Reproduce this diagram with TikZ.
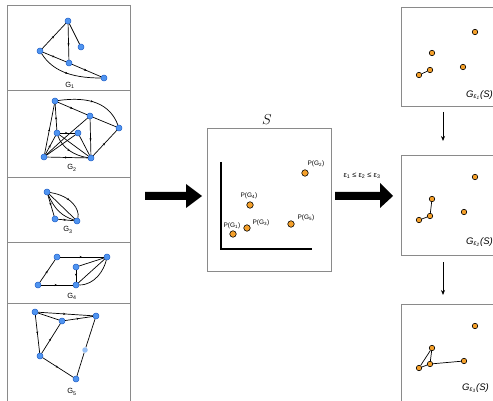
\documentclass[tikz,border=0pt]{standalone}
\usepackage{fontspec}
\setmainfont{Liberation Sans}
\usetikzlibrary{decorations.markings,arrows.meta}
\definecolor{nodeblue}{HTML}{4F94F0}
\definecolor{nodeblueedge}{HTML}{1F5FC8}
\definecolor{ptorange}{HTML}{F5A02A}
\definecolor{boxgray}{HTML}{8A8A8A}
\tikzset{
  bn/.style={circle,fill=nodeblue,draw=nodeblueedge,line width=0.5pt,inner sep=0pt,minimum size=6pt},
  bnl/.style={circle,fill=nodeblue!60,inner sep=0pt,minimum size=5.5pt},
  ge/.style={line width=0.7pt,black,postaction={decorate},decoration={markings,mark=at position 0.5 with {\arrow{Stealth[length=2.4pt,width=2.2pt]}}}},
  gp/.style={line width=0.7pt,black},
  op/.style={circle,fill=ptorange,draw=black,line width=0.6pt,inner sep=0pt,minimum size=6.5pt},
  ops/.style={circle,fill=ptorange,draw=black,line width=0.6pt,inner sep=0pt,minimum size=5.5pt},
  frame/.style={draw=boxgray,line width=0.9pt},
  glabel/.style={font=\fontsize{7.5}{8}\selectfont,inner sep=0pt},
  plabel/.style={font=\fontsize{6.5}{7}\selectfont,inner sep=0pt},
  bigarrow/.style={fill=black,draw=none},
  downarrow/.style={-{Stealth[length=5pt,width=4pt]},line width=0.8pt},
  elabel/.style={font=\fontsize{9.5}{10}\selectfont\itshape,inner sep=0pt,anchor=east}
}
\begin{document}
\begin{tikzpicture}[x=1pt,y=-1pt]
\useasboundingbox (0,0) rectangle (493,401);
% left column frame
\draw[frame] (7,5) -- (130,5) (7,5) -- (7,405) (130,5) -- (130,405);
\draw[frame] (7,90) -- (130,90) (7,177) -- (130,177) (7,242) -- (130,242) (7,303) -- (130,303);

% G1
\node[bn] (a1) at (68,21) {};
\node[bn] (a2) at (40,51) {};
\node[bn] (a3) at (81,47) {};
\node[bn] (a4) at (69,63) {};
\node[bn] (a5) at (104,78) {};
\draw[ge] (a2) -- (a1);
\draw[ge] (a4) -- (a1);
\draw[gp] (a1) -- (a3);
\draw[ge] (a2) -- (a4);
\draw[ge] (a4) -- (a5);
\draw[ge] (a2) .. controls (52,70) and (70,78) .. (a5);
\node[glabel] (l1) at (70,85) {G\textsubscript{1}};

% G2
\node[bn] (b1) at (55,101) {};
\node[bn] (b2) at (90,116) {};
\node[bn] (b3) at (119,128) {};
\node[bn] (b4) at (57,133) {};
\node[bn] (b5) at (78,133) {};
\node[bn] (b6) at (44,157) {};
\node[bn] (b7) at (91,158) {};
\draw[ge] (b1) -- (b2);
\draw[ge] (b1) .. controls (90,96) and (110,104) .. (b3);
\draw[gp] (b2) -- (b3);
\draw[ge] (b7) -- (b2);
\draw[ge] (b7) -- (b3);
\draw[ge] (b4) -- (b1);
\draw[ge] (b6) -- (b1);
\draw[ge] (b4) -- (b5);
\draw[ge] (b6) -- (b4);
\draw[ge] (b4) .. controls (62,148) and (75,156) .. (b7);
\draw[gp] (b4) -- (b7);
\draw[gp] (b5) -- (b6);
\draw[gp] (b5) -- (b7);
\draw[ge] (b6) -- (b7);
\draw[gp] (b6) .. controls (60,142) and (62,140) .. (b2);
\node[glabel] (l2) at (72,168) {G\textsubscript{2}};

% G3
\node[bn] (c1) at (47,192) {};
\node[bn] (c2) at (55,219) {};
\node[bn] (c3) at (77,221) {};
\draw[ge] (c1) -- (c2);
\draw[gp] (c1) -- (c3);
\draw[ge] (c1) .. controls (72,196) and (80,210) .. (c3);
\draw[gp] (c1) .. controls (55,210) and (62,216) .. (c3);
\draw[ge] (c2) -- (c3);
\node[glabel] (l3) at (68,230) {G\textsubscript{3}};

% G4
\node[bn] (d1) at (57,257) {};
\node[bn] (d2) at (107,257) {};
\node[bn] (d3) at (76,267) {};
\node[bn] (d4) at (38,285) {};
\node[bn] (d5) at (76,285) {};
\draw[ge] (d1) -- (d2);
\draw[ge] (d4) -- (d1);
\draw[ge] (d4) -- (d5);
\draw[gp] (d3) -- (d2);
\draw[ge] (d3) -- (d5);
\draw[gp] (d5) -- (d2);
\draw[gp] (d5) .. controls (95,285) and (104,270) .. (d2);
\node[glabel] (l4) at (72,296) {G\textsubscript{4}};

% G5
\node[bn] (e1) at (35,312) {};
\node[bn] (e2) at (62,321) {};
\node[bn] (e3) at (96,316) {};
\node[bn] (e4) at (40,356) {};
\node[bnl] (e5) at (85,350) {};
\node[bn] (e6) at (76,379) {};
\draw[ge] (e1) -- (e3);
\draw[gp] (e1) -- (e2);
\draw[ge] (e2) -- (e3);
\draw[ge] (e1) -- (e4);
\draw[ge] (e4) -- (e2);
\draw[ge] (e4) -- (e6);
\draw[gp] (e6) -- (e5);
\draw[gp] (e5) -- (e3);
\node[glabel] (l5) at (72,392) {G\textsubscript{5}};

% big arrow 1
\fill[bigarrow] (145,192) -- (186,192) -- (186,184) -- (202,196) -- (186,208) -- (186,200) -- (145,200) -- cycle;

% S box
\draw[frame] (207,128) rectangle (331,271);
\node[inner sep=0pt,font=\Large] (slab) at (267,120) {$S$};
\draw[line width=1.1pt] (221,162) -- (221,249) -- (312,249);
\node[op] (p2) at (305,173) {};
\node[op] (p4) at (250,205) {};
\node[op] (p3) at (247,228) {};
\node[op] (p1) at (233,234) {};
\node[op] (p5) at (291,224) {};
\node[plabel] (q2) at (316,164) {P(G\textsubscript{2})};
\node[plabel] (q4) at (249,196) {P(G\textsubscript{4})};
\node[plabel] (q3) at (261,223) {P(G\textsubscript{3})};
\node[plabel] (q1) at (232,226) {P(G\textsubscript{1})};
\node[plabel] (q5) at (306,218) {P(G\textsubscript{5})};

% big arrow 2
\fill[bigarrow] (335,192) -- (380,192) -- (380,183) -- (393,196) -- (380,208) -- (380,200) -- (335,200) -- cycle;
\node[plabel,font=\fontsize{7.5}{8}\selectfont] (eps) at (362,176) {ε\textsubscript{1} ≤ ε\textsubscript{2} ≤ ε\textsubscript{3}};

% right box 1
\draw[frame] (500,7) -- (401,7) -- (401,106) -- (500,106);
\node[ops] (r1a) at (475,32) {};
\node[ops] (r1b) at (432,53) {};
\node[ops] (r1c) at (430,70) {};
\node[ops] (r1d) at (419,75) {};
\node[ops] (r1e) at (463,67) {};
\draw[gp] (r1d) -- (r1c);
\node[elabel] (t1) at (493,95) {G\textsubscript{ε\textsubscript{1}}(S)};

% right box 2
\draw[frame] (500,155) -- (401,155) -- (401,255) -- (500,255);
\node[ops] (r2a) at (475,177) {};
\node[ops] (r2b) at (432,199) {};
\node[ops] (r2c) at (430,216) {};
\node[ops] (r2d) at (419,220) {};
\node[ops] (r2e) at (464,212) {};
\draw[gp] (r2d) -- (r2c) -- (r2b);
\node[elabel] (t2) at (493,242) {G\textsubscript{ε\textsubscript{2}}(S)};

% right box 3
\draw[frame] (500,304) -- (401,304) -- (401,405);
\node[ops] (r3a) at (475,326) {};
\node[ops] (r3b) at (432,348) {};
\node[ops] (r3c) at (430,364) {};
\node[ops] (r3d) at (419,368) {};
\node[ops] (r3e) at (464,361) {};
\draw[gp] (r3d) -- (r3c) -- (r3b) -- (r3d);
\draw[gp] (r3c) -- (r3e);
\node[elabel] (t3) at (489,388) {G\textsubscript{ε\textsubscript{3}}(S)};

% down arrows
\coordinate (da1s) at (443,112);
\coordinate (da1e) at (443,141);
\coordinate (da2s) at (443,262);
\coordinate (da2e) at (443,295);
\draw[downarrow] (da1s) -- (da1e);
\draw[downarrow] (da2s) -- (da2e);
\end{tikzpicture}
\end{document}
